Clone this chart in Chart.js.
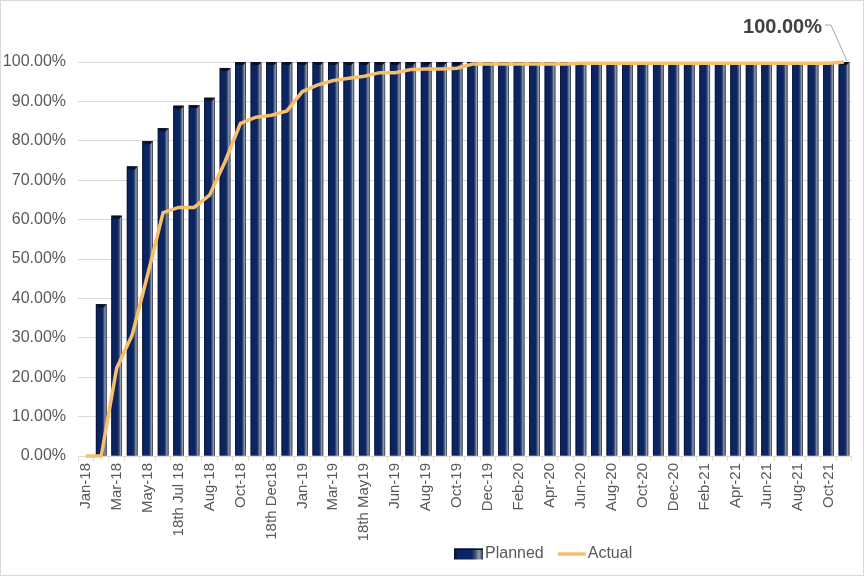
<!DOCTYPE html>
<html>
<head>
<meta charset="utf-8">
<script src="https://cdn.jsdelivr.net/npm/chart.js@4.4.1/dist/chart.umd.min.js"></script>
<style>
  html, body { margin: 0; padding: 0; background: #ffffff; }
  #wrap { width: 864px; height: 576px; }
</style>
</head>
<body>
<div id="wrap"><canvas id="c" width="864" height="576"></canvas></div>
<script>
const categories = [
  'Jan-18','Feb-18','Mar-18','Apr-18','May-18','Jun-18','18th Jul 18','Jul-18','Aug-18','Sep-18',
  'Oct-18','Nov-18','18th Dec18','Dec-18','Jan-19','Feb-19','Mar-19','Apr-19','18th May19','May-19',
  'Jun-19','Jul-19','Aug-19','Sep-19','Oct-19','Nov-19','Dec-19','Jan-20','Feb-20','Mar-20',
  'Apr-20','May-20','Jun-20','Jul-20','Aug-20','Sep-20','Oct-20','Nov-20','Dec-20','Jan-21',
  'Feb-21','Mar-21','Apr-21','May-21','Jun-21','Jul-21','Aug-21','Sep-21','Oct-21','Nov-21'
];
const planned = [
  0, 38.5, 61.0, 73.5, 79.9, 83.2, 88.9, 89.0, 90.9, 98.5,
  100, 100, 100, 100, 100, 100, 100, 100, 100, 100,
  100, 100, 100, 100, 100, 100, 100, 100, 100, 100,
  100, 100, 100, 100, 100, 100, 100, 100, 100, 100,
  100, 100, 100, 100, 100, 100, 100, 100, 100, 100
];
const actual = [
  0, 0, 22.3, 30.7, 46.0, 61.8, 63.1, 63.1, 66.2, 74.7,
  84.4, 86.0, 86.5, 87.6, 92.5, 94.2, 95.3, 95.9, 96.4, 97.3,
  97.3, 98.1, 98.2, 98.2, 98.4, 99.5, 99.5, 99.5, 99.5, 99.5,
  99.5, 99.5, 99.7, 99.7, 99.7, 99.7, 99.7, 99.7, 99.7, 99.7,
  99.7, 99.7, 99.7, 99.7, 99.7, 99.7, 99.7, 99.7, 99.7, 100
];
const yTicks = [0, 10, 20, 30, 40, 50, 60, 70, 80, 90, 100];

const FONT = "'Liberation Sans', Arial, sans-serif";
const TEXT = '#595959';
const NAVY = '#0c2461';
const ORANGE = '#F7BE6B';

function barGradient(ctx, left, width) {
  const g = ctx.createLinearGradient(left, 0, left + width, 0);
  g.addColorStop(0, '#081024');
  g.addColorStop(0.14, '#0b2462');
  g.addColorStop(0.6, '#0b2462');
  g.addColorStop(0.74, '#44546f');
  g.addColorStop(0.86, '#97a0b0');
  g.addColorStop(1, '#2a3450');
  return g;
}

const barShade = {
  id: 'barShade',
  afterDatasetDraw(chart, args) {
    if (args.index !== 0) return;
    const ctx = chart.ctx;
    const area = chart.chartArea;
    ctx.save();
    ctx.beginPath();
    ctx.rect(area.left, area.top - 2, area.right - area.left, area.bottom - area.top + 2);
    ctx.clip();
    args.meta.data.forEach(el => {
      const w = el.width, left = el.x - w / 2;
      const top = Math.min(el.y, el.base), h = Math.abs(el.base - el.y);
      if (h <= 0) return;
      ctx.fillStyle = barGradient(ctx, left, w);
      ctx.fillRect(left, top, w, h);
      ctx.fillStyle = '#081024';
      ctx.beginPath();
      ctx.moveTo(left, top);
      ctx.lineTo(left + w, top);
      ctx.lineTo(left + w * 0.75, top + 3);
      ctx.lineTo(left + w * 0.25, top + 3);
      ctx.closePath();
      ctx.fill();
    });
    ctx.restore();
  }
};

const lastLabel = {
  id: 'lastLabel',
  afterDatasetsDraw(chart) {
    const meta = chart.getDatasetMeta(1);
    const i = actual.length - 1;
    const pt = meta.data[i];
    if (!pt) return;
    const ctx = chart.ctx;
    ctx.save();
    ctx.strokeStyle = '#a6a6a6';
    ctx.lineWidth = 1;
    ctx.beginPath();
    ctx.moveTo(pt.x - 19, pt.y - 37);
    ctx.lineTo(pt.x - 13, pt.y - 37);
    ctx.lineTo(pt.x + 3, pt.y - 1);
    ctx.stroke();
    ctx.font = 'bold 20px ' + FONT;
    ctx.fillStyle = '#404040';
    ctx.textAlign = 'right';
    ctx.textBaseline = 'middle';
    ctx.fillText(actual[i].toFixed(2) + '%', pt.x - 22, pt.y - 35);
    ctx.restore();
  }
};

const customLegend = {
  id: 'customLegend',
  afterDraw(chart) {
    const ctx = chart.ctx;
    const ds = chart.data.datasets;
    ctx.save();
    ctx.font = '16px ' + FONT;
    ctx.textBaseline = 'middle';
    ctx.textAlign = 'left';
    const y = 554;
    let x = 454;
    const sw = 29, sh = 11;
    ctx.fillStyle = barGradient(ctx, x, sw);
    ctx.fillRect(x, y - sh / 2, sw, sh);
    ctx.fillStyle = '#081024';
    ctx.fillRect(x, y - sh / 2, sw, 1.5);
    x += sw + 2;
    ctx.fillStyle = TEXT;
    ctx.fillText(ds[0].label, x, y);
    x += ctx.measureText(ds[0].label).width + 14;
    ctx.strokeStyle = ORANGE;
    ctx.lineWidth = 3.5;
    ctx.beginPath();
    ctx.moveTo(x, y);
    ctx.lineTo(x + 28, y);
    ctx.stroke();
    x += 28 + 2;
    ctx.fillStyle = TEXT;
    ctx.fillText(ds[1].label, x, y);
    ctx.strokeStyle = '#d9d9d9';
    ctx.lineWidth = 1;
    ctx.strokeRect(0.5, 0.5, chart.width - 1, chart.height - 1);
    ctx.restore();
  }
};

new Chart(document.getElementById('c'), {
  type: 'bar',
  data: {
    labels: categories,
    datasets: [
      {
        label: 'Planned',
        data: planned,
        backgroundColor: NAVY,
        borderWidth: 0,
        barPercentage: 0.69,
        categoryPercentage: 1.0,
        order: 1
      },
      {
        type: 'line',
        label: 'Actual',
        data: actual,
        borderColor: ORANGE,
        backgroundColor: ORANGE,
        borderWidth: 3.5,
        pointRadius: 0,
        tension: 0,
        fill: false,
        order: 0,
        clip: 4
      }
    ]
  },
  options: {
    responsive: false,
    devicePixelRatio: 1,
    animation: false,
    layout: { padding: { left: 0, right: 1, top: 62, bottom: 36 } },
    plugins: {
      legend: { display: false },
      tooltip: { enabled: false }
    },
    scales: {
      x: {
        offset: true,
        grid: {
          offset: true,
          drawOnChartArea: false,
          drawTicks: true,
          tickLength: 5,
          color: '#d9d9d9'
        },
        border: { display: true, color: '#d9d9d9' },
        ticks: {
          autoSkip: false,
          minRotation: 90,
          maxRotation: 90,
          padding: 2,
          color: TEXT,
          font: { family: FONT, size: 15 },
          callback: function (v, i) { return i % 2 === 0 ? categories[i] : ''; }
        },
        afterFit(scale) { scale.height = 84; }
      },
      y: {
        min: yTicks[0],
        max: yTicks[yTicks.length - 1],
        afterBuildTicks(scale) { scale.ticks = yTicks.map(v => ({ value: v })); },
        grid: { color: '#d9d9d9', drawTicks: false },
        border: { display: false },
        ticks: {
          padding: 12,
          color: TEXT,
          font: { family: FONT, size: 16 },
          callback: v => Number(v).toFixed(2) + '%'
        },
        afterFit(scale) { scale.width = 78; }
      }
    }
  },
  plugins: [barShade, lastLabel, customLegend]
});
</script>
</body>
</html>
